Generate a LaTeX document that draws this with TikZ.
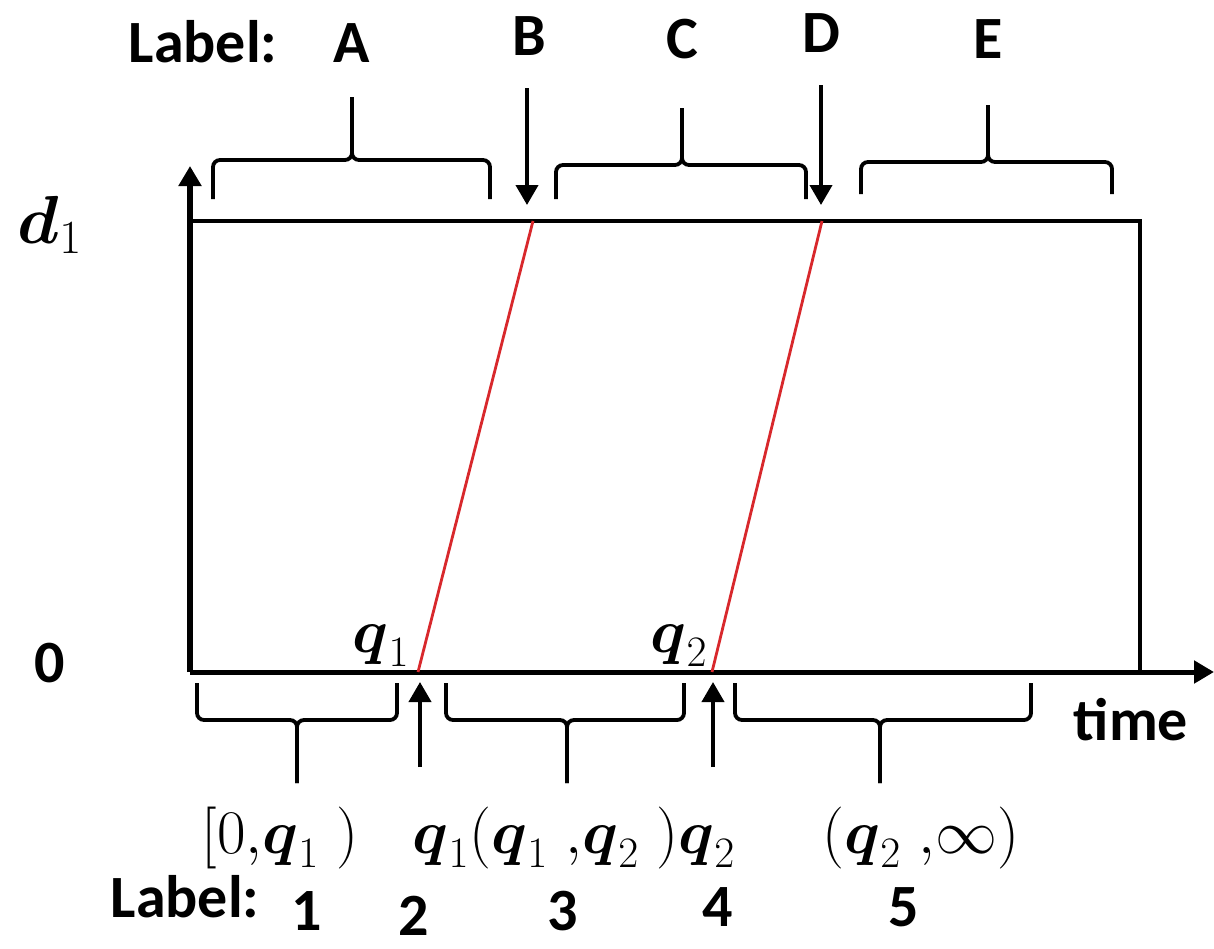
\documentclass[tikz,border=0pt]{standalone}
\usepackage{fix-cm}
\usepackage{amsmath}
\usepackage{fontspec}
\usepackage{tikz}
\usetikzlibrary{arrows.meta}
\newfontfamily\lblfont{Carlito}
\definecolor{SwitchRed}{HTML}{D8282C}

\begin{document}
\begin{tikzpicture}[x=0.5pt,y=-0.5pt,>={Triangle[length=10pt,width=11pt]}]
  \tikzstyle{lbl}=[inner sep=0pt,anchor=base,
    font=\fontsize{30}{36}\selectfont\lblfont\bfseries]
  \tikzstyle{mth}=[inner sep=0pt,anchor=base,font=\fontsize{31}{36}\selectfont]
  \tikzstyle{brk}=[line width=1.9pt,rounded corners=3.5pt]
  \tikzstyle{pin}=[->,line width=2pt]
  \useasboundingbox (0,0) rectangle (1214,948);
  % axes and the d_1 frame
  \coordinate (o) at (190,672);
  \coordinate (ytop) at (190,166);
  \coordinate (xend) at (1214,672);
  \coordinate (tl) at (190,221);
  \coordinate (tr) at (1140,221);
  \coordinate (br) at (1140,672);
  \draw[line width=1.9pt] (tl)--(tr)--(br);
  \draw[->,line width=3pt] (o)--(ytop);
  \draw[->,line width=2.5pt] (o)--(xend);
  % switching lines
  \coordinate (q1) at (418,672);
  \coordinate (q2) at (712,672);
  \coordinate (b1) at (533,221);
  \coordinate (b2) at (822,221);
  \draw[SwitchRed,line width=1.4pt] (q1)--(b1);
  \draw[SwitchRed,line width=1.4pt] (q2)--(b2);
  \node[mth,anchor=base east] (q1lab) at (410,652) {$\boldsymbol{q}_1$};
  \node[mth,anchor=base east] (q2lab) at (708,652) {$\boldsymbol{q}_2$};
  \node[mth] (d1) at (50,243) {\fontsize{34}{40}\selectfont$\boldsymbol{d}_1$};
  \node[lbl] (zero) at (50,682) {0};
  \node[lbl] (time) at (1131,740) {time};
  % top labels
  \node[lbl] (toplab) at (203,62) {Label:};
  \node[lbl] (lA) at (352,62) {A};
  \node[lbl] (lB) at (529,55) {B};
  \node[lbl] (lC) at (682,58) {C};
  \node[lbl] (lD) at (821,52) {D};
  \node[lbl] (lE) at (988,58) {E};
  \draw[brk] (213,199) |- (352,160) -- (352,97);
  \draw[brk] (490,199) |- (352,160) -- (352,97);
  \draw[brk] (556,199) |- (682,165) -- (682,108);
  \draw[brk] (806,199) |- (682,165) -- (682,108);
  \draw[brk] (861,194) |- (988,162) -- (988,105);
  \draw[brk] (1112,194) |- (988,162) -- (988,105);
  \coordinate (pB) at (527,88);
  \coordinate (pD) at (821,85);
  \draw[pin] (pB)--(527,205);
  \draw[pin] (pD)--(821,205);
  % bottom labels
  \draw[brk] (197,683) |- (297,720) -- (297,783);
  \draw[brk] (397,683) |- (297,720) -- (297,783);
  \draw[brk] (446,683) |- (567,720) -- (567,783);
  \draw[brk] (684,683) |- (567,720) -- (567,783);
  \draw[brk] (735,683) |- (880,720) -- (880,783);
  \draw[brk] (1031,683) |- (880,720) -- (880,783);
  \coordinate (p2) at (420,767);
  \coordinate (p4) at (713,767);
  \draw[pin] (p2)--(420,682);
  \draw[pin] (p4)--(713,682);
  \node[mth] (iv1) at (280,853) {$[0{,}\boldsymbol{q}_1\;)$};
  \node[mth] (iv234) at (574,853)
    {$\boldsymbol{q}_1(\boldsymbol{q}_1\;{,}\boldsymbol{q}_2\;)\boldsymbol{q}_2$};
  \node[mth] (iv5) at (921,853) {$(\boldsymbol{q}_2\;{,}\infty)$};
  \node[lbl] (botlab) at (185,917) {Label:};
  \node[lbl] (n1) at (307,930) {1};
  \node[lbl] (n2) at (414,935) {2};
  \node[lbl] (n3) at (563,930) {3};
  \node[lbl] (n4) at (718,926) {4};
  \node[lbl] (n5) at (904,926) {5};
\end{tikzpicture}
\end{document}
